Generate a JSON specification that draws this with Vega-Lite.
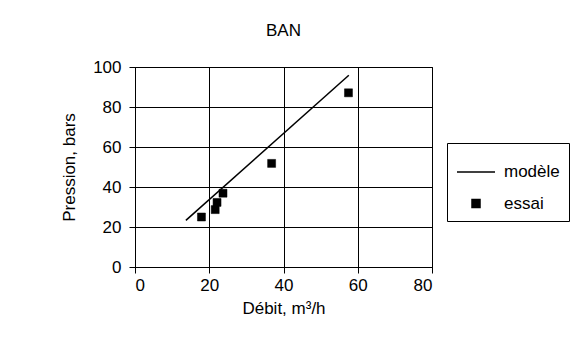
{
  "$schema": "https://vega.github.io/schema/vega-lite/v6.json",
  "autosize": "none",
  "width": 297,
  "height": 200,
  "padding": {"left": 135, "top": 67, "right": 150, "bottom": 81},
  "background": "white",
  "title": {"text": "BAN", "font": "Liberation Sans", "fontSize": 17, "fontWeight": "normal", "color": "black", "anchor": "middle", "offset": 18},
  "encoding": {
    "x": {"field": "debit", "type": "quantitative", "scale": {"domain": [0, 80]},
          "axis": {"values": [0, 20, 40, 60, 80], "tickCount": 5, "title": "Débit, m³/h", "labelPadding": 4, "titlePadding": 7}},
    "y": {"field": "pression", "type": "quantitative", "scale": {"domain": [0, 100]},
          "axis": {"values": [0, 20, 40, 60, 80, 100], "tickCount": 6, "title": "Pression, bars", "labelPadding": 8, "titlePadding": 14}}
  },
  "config": {
    "view": {"stroke": "black", "strokeWidth": 1},
    "axis": {
      "labelFont": "Liberation Sans", "labelFontSize": 17, "labelColor": "black", "labelOverlap": false,
      "titleFont": "Liberation Sans", "titleFontSize": 17, "titleFontWeight": "normal", "titleColor": "black",
      "gridColor": "black", "gridOpacity": 1, "gridWidth": 1,
      "domainColor": "black", "tickColor": "black", "tickSize": 6
    }
  },
  "layer": [
    {
      "data": {"values": [
        {"debit": 13.7, "pression": 23.3},
        {"debit": 57.6, "pression": 95.9}
      ]},
      "mark": {"type": "line", "color": "black", "strokeWidth": 1.5}
    },
    {
      "data": {"values": [
        {"debit": 17.9, "pression": 25.0, "serie": "essai"},
        {"debit": 21.6, "pression": 28.7, "serie": "essai"},
        {"debit": 22.1, "pression": 32.3, "serie": "essai"},
        {"debit": 23.7, "pression": 36.9, "serie": "essai"},
        {"debit": 36.8, "pression": 51.8, "serie": "essai"},
        {"debit": 57.5, "pression": 87.1, "serie": "essai"}
      ]},
      "mark": {"type": "point", "filled": true, "color": "black", "stroke": "black", "strokeWidth": 0.5, "opacity": 1},
      "encoding": {
        "shape": {"field": "serie", "type": "nominal",
                  "scale": {"domain": ["modèle", "essai"], "range": ["stroke", "square"]},
                  "legend": {"title": null, "orient": "none", "legendX": 312, "legendY": 76,
                             "strokeColor": "black", "fillColor": "white", "padding": 9,
                             "labelFont": "Liberation Sans", "labelFontSize": 17, "labelColor": "black",
                             "labelOffset": 8, "rowPadding": 14,
                             "encode": {"symbols": {"update": {"stroke": {"value": "black"}, "strokeWidth": {"value": 1.3}, "fill": {"value": "black"}, "opacity": {"value": 1}}}}}},
        "size": {"field": "serie", "type": "nominal",
                 "scale": {"domain": ["modèle", "essai"], "range": [1444, 64]},
                 "legend": {"title": null, "orient": "none", "legendX": 312, "legendY": 76}}
      }
    }
  ]
}
